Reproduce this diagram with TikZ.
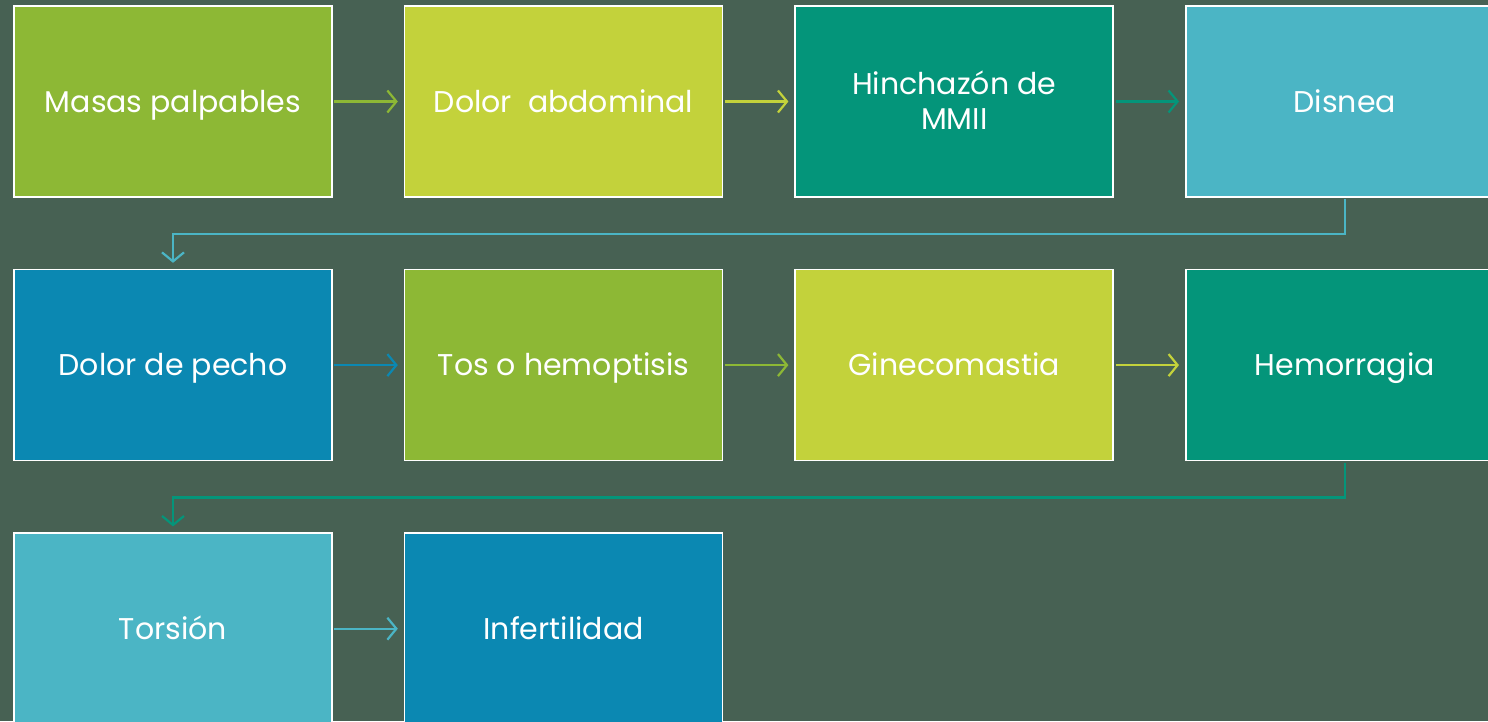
\documentclass[tikz,border=0pt]{standalone}
\usepackage{fontspec}
\setmainfont{Poppins}
\usepackage{tikz}
\usetikzlibrary{arrows.meta, positioning}
\definecolor{bgslate}{HTML}{476153}
\definecolor{leafgreen}{HTML}{8DB835}
\definecolor{limeyellow}{HTML}{C3D23B}
\definecolor{seateal}{HTML}{04957A}
\definecolor{skycyan}{HTML}{4BB5C5}
\definecolor{oceanblue}{HTML}{0B88B2}
\tikzstyle{symptom} = [rectangle, minimum width=318pt, minimum height=191pt, align=center, draw=white, line width=1.6pt, text=white, inner sep=0pt, text height=28pt, text depth=7pt, font=\fontsize{30}{35}\selectfont]
\tikzstyle{arrow} = [line width=2.2pt, -{Straight Barb[length=9pt, width=22pt]}, shorten >=6pt, shorten <=1.5pt]

\begin{document}
\begin{tikzpicture}[node distance=71pt and 71pt]
	\clip (0,0) rectangle (1488pt,-721pt);
	\useasboundingbox (0,0) rectangle (1488pt,-721pt);
	\fill[bgslate] (0,0) rectangle (1488pt,-721pt);
	
	% first row
	\node (masas) at (173pt,-101.5pt) [symptom, fill=leafgreen] {Masas palpables};
	
	\node (dolor-abd) [symptom, fill=limeyellow, right=of masas] {Dolor\ \ abdominal};
	
	\node (hinchazon) [symptom, fill=seateal, right=of dolor-abd, text height=63pt] {Hinchazón de\\MMII};
	
	\node (disnea) [symptom, fill=skycyan, right=of hinchazon] {Disnea};
	
	% second row
	\node (pecho) [symptom, fill=oceanblue, below=of masas] {Dolor de pecho};
	
	\node (tos) [symptom, fill=leafgreen, right=of pecho] {Tos o hemoptisis};
	
	\node (gineco) [symptom, fill=limeyellow, right=of tos] {Ginecomastia};
	
	\node (hemorragia) [symptom, fill=seateal, right=of gineco] {Hemorragia};
	
	% third row
	\node (torsion) [symptom, fill=skycyan, below=of pecho] {Torsión};
	
	\node (infertilidad) [symptom, fill=oceanblue, right=of torsion] {Infertilidad};
	
	% arrows
	\draw [arrow, leafgreen] (masas) -- (dolor-abd);
	\draw [arrow, limeyellow] (dolor-abd) -- (hinchazon);
	\draw [arrow, seateal] (hinchazon) -- (disnea);
	\draw [arrow, skycyan] (disnea.south) -- ++(0,-36pt) -| (pecho.north);
	\draw [arrow, oceanblue] (pecho) -- (tos);
	\draw [arrow, leafgreen] (tos) -- (gineco);
	\draw [arrow, limeyellow] (gineco) -- (hemorragia);
	\draw [arrow, seateal] (hemorragia.south) -- ++(0,-36pt) -| (torsion.north);
	\draw [arrow, skycyan] (torsion) -- (infertilidad);
\end{tikzpicture}
\end{document}
